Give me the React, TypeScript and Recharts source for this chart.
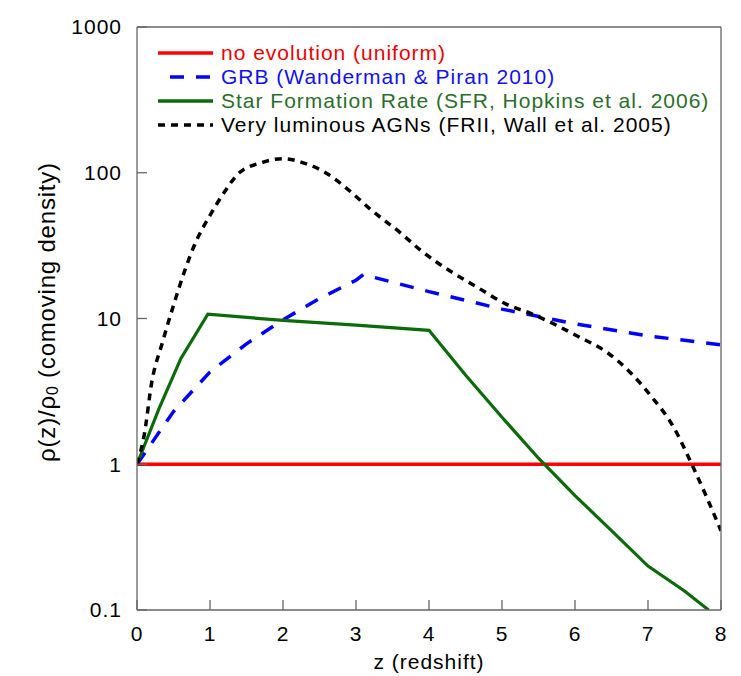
import React from 'react';
import { LineChart, Line, XAxis, YAxis, Legend } from 'recharts';

// ---- data ----
const xTicks = [0, 1, 2, 3, 4, 5, 6, 7, 8];
const yTicks = [0.1, 1, 10, 100, 1000];

const noEvoZ = [0, 8];
const noEvoRho = [1, 1];

const grbZ = [0, 0.5, 1, 1.5, 2, 2.5, 3, 3.1, 4, 5, 6, 7, 8];
const grbRho = [1, 2.3, 4.3, 6.7, 9.8, 13.7, 18.3, 20, 15.3, 11.6, 9.2, 7.6, 6.6];

const sfrZ = [0, 0.3, 0.6, 0.97, 2, 3, 4, 4.5, 5, 5.5, 6, 6.5, 7, 7.5, 7.83];
const sfrRho = [1, 2.4, 5.3, 10.7, 9.7, 9.0, 8.3, 4.1, 2.1, 1.1, 0.61, 0.35, 0.2, 0.135, 0.1];

const agnZ = [0, 0.1, 0.2, 0.35, 0.5, 0.65, 0.8, 1.0, 1.2, 1.4, 1.7, 2.0, 2.3, 2.6, 2.9, 3.2, 3.6, 3.9, 4.3, 4.65, 5.05, 5.4, 6.05, 6.45, 6.75, 7.05, 7.35, 7.6, 7.8, 8.0];
const agnRho = [1, 1.6, 3.6, 6.9, 12.3, 21, 33, 51, 74, 100, 117, 125, 116, 99, 76, 56, 39, 29, 21, 16.5, 12.6, 10.8, 7.5, 5.8, 4.3, 2.9, 1.8, 1.0, 0.6, 0.35];

const seriesNames = [
  'no evolution (uniform)',
  'GRB (Wanderman & Piran 2010)',
  'Star Formation Rate (SFR, Hopkins et al. 2006)',
  'Very luminous AGNs (FRII, Wall et al. 2005)',
];

const toData = (zs: number[], rs: number[]) => zs.map((z, i) => ({ z, rho: rs[i] }));
const noEvoData = toData(noEvoZ, noEvoRho);
const grbData = toData(grbZ, grbRho);
const sfrData = toData(sfrZ, sfrRho);
const agnData = toData(agnZ, agnRho);

const FONT = '"Liberation Sans", Arial, Helvetica, sans-serif';
const AXIS = '#666666';

const legendStyles = [
  { line: '#ff0000', text: '#ee0000', dash: undefined as string | undefined, offset: 0, width: 3.5 },
  { line: '#0000ff', text: '#1111ee', dash: '14 12', offset: 14, width: 3.5 },
  { line: '#0b6b0b', text: '#2b6e2b', dash: undefined, offset: 0, width: 3.5 },
  { line: '#000000', text: '#000000', dash: '7 6', offset: 0, width: 3.5 },
];

const renderLegend = () => (
  <div style={{ fontFamily: FONT, fontSize: 21, letterSpacing: 1 }}>
    {seriesNames.map((name, i) => {
      const st = legendStyles[i];
      return (
        <div key={name} style={{ display: 'flex', alignItems: 'center', height: 24, whiteSpace: 'nowrap' }}>
          <svg width={55} height={24} style={{ display: 'block' }}>
            <line x1={0} y1={12} x2={55} y2={12} stroke={st.line} strokeWidth={st.width}
              strokeDasharray={st.dash} strokeDashoffset={st.offset} />
          </svg>
          <span style={{ marginLeft: 8, color: st.text, lineHeight: '24px' }}>{name}</span>
        </div>
      );
    })}
  </div>
);

const renderYLabel = () => (
  <text x={38} y={304} transform="rotate(-90 38 304)" textAnchor="middle" dominantBaseline="central"
    fontFamily={FONT} fontSize={24} letterSpacing={0.8} fill="#000">
    ρ(z)/ρ<tspan dy={6} fontSize={16}>0</tspan><tspan dy={-6}> (comoving density)</tspan>
  </text>
);

const renderXLabel = () => (
  <text x={421} y={653} textAnchor="middle" dominantBaseline="central"
    fontFamily={FONT} fontSize={21} letterSpacing={1} fill="#000">
    z (redshift)
  </text>
);

const tickStyle = { fontFamily: FONT, fontSize: 21, fill: '#000', letterSpacing: 1 };

export default function App() {
  return (
    <div style={{ position: 'absolute', left: 8, top: 8 }}>
      <LineChart width={725} height={668} margin={{ top: 18, right: 11, bottom: 8, left: 0 }}>
        <XAxis dataKey="z" type="number" domain={[0, 8]} ticks={xTicks} interval={0}
          allowDataOverflow height={58} tickSize={-10} tickMargin={26}
          stroke={AXIS} strokeWidth={1.3} tick={tickStyle} label={renderXLabel} />
        <XAxis xAxisId="top" orientation="top" dataKey="z" type="number" domain={[0, 8]} ticks={xTicks}
          interval={0} allowDataOverflow height={1} tickSize={-10} tick={false}
          stroke={AXIS} strokeWidth={1.3} />
        <YAxis scale="log" type="number" domain={[0.1, 1000]} ticks={yTicks} interval={0}
          allowDataOverflow width={129} tickSize={-10} tickMargin={25}
          stroke={AXIS} strokeWidth={1.3} tick={tickStyle} label={renderYLabel} />
        <YAxis yAxisId="right" orientation="right" scale="log" type="number" domain={[0.1, 1000]}
          ticks={yTicks} interval={0} allowDataOverflow width={1} tickSize={-10} tick={false}
          stroke={AXIS} strokeWidth={1.3} />
        <Legend content={renderLegend} layout="vertical" align="center" verticalAlign="middle"
          wrapperStyle={{ left: 150, top: 33, width: 560 }} />
        <Line data={noEvoData} dataKey="rho" name={seriesNames[0]} type="linear" stroke="#ff0000"
          strokeWidth={3.5} dot={false} isAnimationActive={false} />
        <Line data={grbData} dataKey="rho" name={seriesNames[1]} type="linear" stroke="#0000ff"
          strokeWidth={3.5} strokeDasharray="14 12" dot={false} isAnimationActive={false} />
        <Line data={sfrData} dataKey="rho" name={seriesNames[2]} type="linear" stroke="#0b6b0b"
          strokeWidth={3.2} dot={false} isAnimationActive={false} />
        <Line data={agnData} dataKey="rho" name={seriesNames[3]} type="monotone" stroke="#000000"
          strokeWidth={3.5} strokeDasharray="7 6" dot={false} isAnimationActive={false} />
      </LineChart>
    </div>
  );
}
